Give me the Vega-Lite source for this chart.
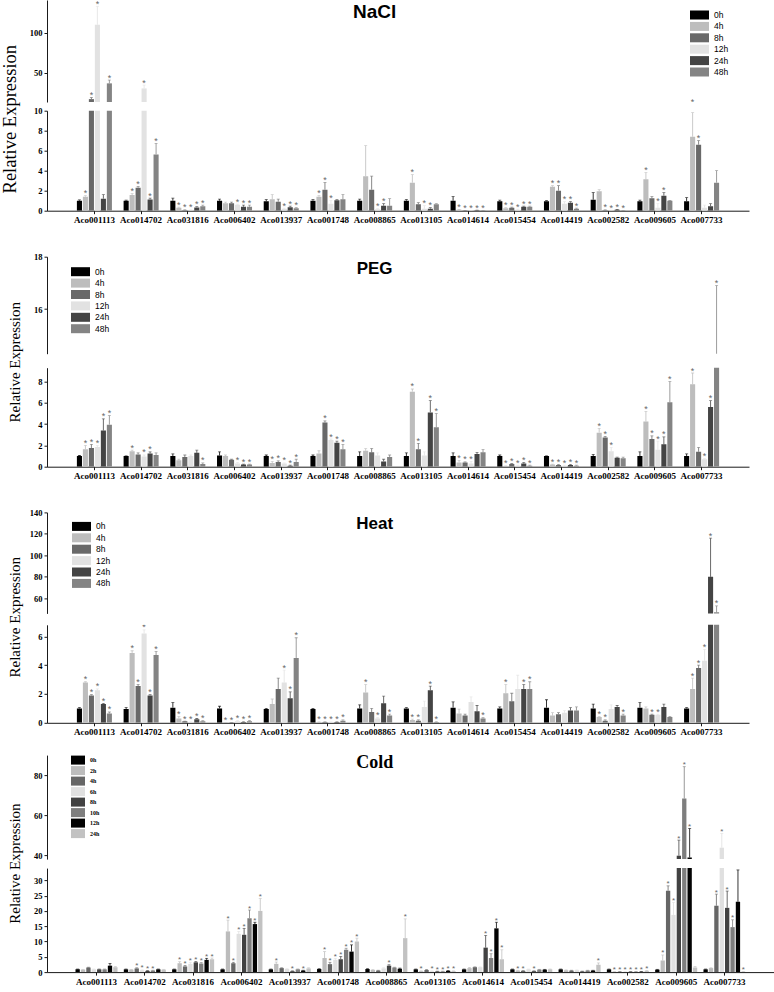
{
"$schema":"https://vega.github.io/schema/vega-lite/v6.json",
"padding":0,
"background":"white",
"spacing":15.7,
"config":{
 "view":{"stroke":null},
 "axis":{"domainColor":"#1a1a1a","tickColor":"#1a1a1a","labelColor":"#000000","labelFont":"Liberation Serif","labelFontWeight":"bold","grid":false,"tickSize":3,"domainWidth":1,"tickWidth":1,"titleFont":"Liberation Serif","titleFontWeight":"normal","titleColor":"#000000"},
 "axisY":{"labelFontSize":8.5,"labelPadding":2},
 "axisX":{"labelFontSize":9,"labelPadding":2,"labelAngle":0}
},
"datasets":{
"nacl":[
{"g":"Aco001113","t":"0h","v":1,"u":1.08},{"g":"Aco001113","t":"4h","v":1.4,"u":1.5,"s":"*"},{"g":"Aco001113","t":"8h","v":17,"u":19,"s":"*"},{"g":"Aco001113","t":"12h","v":110,"u":133,"s":"*"},{"g":"Aco001113","t":"24h","v":1.2,"u":1.6},{"g":"Aco001113","t":"48h","v":36.7,"u":40.8,"s":"*"},
{"g":"Aco014702","t":"0h","v":1,"u":1.05},{"g":"Aco014702","t":"4h","v":1.57,"u":1.7,"s":"*"},{"g":"Aco014702","t":"8h","v":2.3,"u":2.4,"s":"*"},{"g":"Aco014702","t":"12h","v":30.4,"u":34.6,"s":"*"},{"g":"Aco014702","t":"24h","v":1.13,"u":1.25,"s":"*"},{"g":"Aco014702","t":"48h","v":5.63,"u":6.73,"s":"*"},
{"g":"Aco031816","t":"0h","v":1,"u":1.25},{"g":"Aco031816","t":"4h","v":0.3,"u":0.35,"s":"*"},{"g":"Aco031816","t":"8h","v":0.05,"u":0.08,"s":"*"},{"g":"Aco031816","t":"12h","v":0.05,"u":0.08,"s":"*"},{"g":"Aco031816","t":"24h","v":0.33,"u":0.4,"s":"*"},{"g":"Aco031816","t":"48h","v":0.45,"u":0.55,"s":"*"},
{"g":"Aco006402","t":"0h","v":1,"u":1.15},{"g":"Aco006402","t":"4h","v":0.75,"u":0.85},{"g":"Aco006402","t":"8h","v":0.75,"u":0.85},{"g":"Aco006402","t":"12h","v":0.6,"u":0.65,"s":"*"},{"g":"Aco006402","t":"24h","v":0.4,"u":0.55,"s":"*"},{"g":"Aco006402","t":"48h","v":0.4,"u":0.55,"s":"*"},
{"g":"Aco013937","t":"0h","v":0.95,"u":1.1},{"g":"Aco013937","t":"4h","v":1.15,"u":1.6},{"g":"Aco013937","t":"8h","v":0.9,"u":1.15},{"g":"Aco013937","t":"12h","v":0.2,"u":0.25,"s":"*"},{"g":"Aco013937","t":"24h","v":0.35,"u":0.45,"s":"*"},{"g":"Aco013937","t":"48h","v":0.25,"u":0.3,"s":"*"},
{"g":"Aco001748","t":"0h","v":1,"u":1.1},{"g":"Aco001748","t":"4h","v":1.4,"u":1.5,"s":"*"},{"g":"Aco001748","t":"8h","v":2.1,"u":2.8,"s":"*"},{"g":"Aco001748","t":"12h","v":0.7,"u":1.0,"s":"*"},{"g":"Aco001748","t":"24h","v":1.05,"u":1.1},{"g":"Aco001748","t":"48h","v":1.15,"u":1.6},
{"g":"Aco008865","t":"0h","v":1,"u":1.15},{"g":"Aco008865","t":"4h","v":3.45,"u":6.5},{"g":"Aco008865","t":"8h","v":2.1,"u":3.45},{"g":"Aco008865","t":"12h","v":0.15,"u":0.2,"s":"*"},{"g":"Aco008865","t":"24h","v":0.5,"u":0.7,"s":"*"},{"g":"Aco008865","t":"48h","v":0.5,"u":1.2},
{"g":"Aco013105","t":"0h","v":1,"u":1.1},{"g":"Aco013105","t":"4h","v":2.8,"u":3.6,"s":"*"},{"g":"Aco013105","t":"8h","v":0.65,"u":0.8},{"g":"Aco013105","t":"12h","v":0.2,"u":0.5,"s":"*"},{"g":"Aco013105","t":"24h","v":0.2,"u":0.3,"s":"*"},{"g":"Aco013105","t":"48h","v":0.65,"u":0.7},
{"g":"Aco014614","t":"0h","v":1,"u":1.4},{"g":"Aco014614","t":"4h","v":0.1,"u":0.12,"s":"*"},{"g":"Aco014614","t":"8h","v":0.02,"u":0.03,"s":"*"},{"g":"Aco014614","t":"12h","v":0.02,"u":0.03,"s":"*"},{"g":"Aco014614","t":"24h","v":0.05,"u":0.06,"s":"*"},{"g":"Aco014614","t":"48h","v":0.02,"u":0.03,"s":"*"},
{"g":"Aco015454","t":"0h","v":0.95,"u":1.05},{"g":"Aco015454","t":"4h","v":0.25,"u":0.3,"s":"*"},{"g":"Aco015454","t":"8h","v":0.3,"u":0.35,"s":"*"},{"g":"Aco015454","t":"12h","v":0.1,"u":0.15,"s":"*"},{"g":"Aco015454","t":"24h","v":0.4,"u":0.45,"s":"*"},{"g":"Aco015454","t":"48h","v":0.4,"u":0.45,"s":"*"},
{"g":"Aco014419","t":"0h","v":0.95,"u":1.0},{"g":"Aco014419","t":"4h","v":2.4,"u":2.5,"s":"*"},{"g":"Aco014419","t":"8h","v":2.0,"u":2.5,"s":"*"},{"g":"Aco014419","t":"12h","v":0.7,"u":0.9,"s":"*"},{"g":"Aco014419","t":"24h","v":0.8,"u":0.9,"s":"*"},{"g":"Aco014419","t":"48h","v":0.2,"u":0.25,"s":"*"},
{"g":"Aco002582","t":"0h","v":1.1,"u":1.8},{"g":"Aco002582","t":"4h","v":1.95,"u":2.1},{"g":"Aco002582","t":"8h","v":0.05,"u":0.08,"s":"*"},{"g":"Aco002582","t":"12h","v":0.03,"u":0.05,"s":"*"},{"g":"Aco002582","t":"24h","v":0.1,"u":0.12,"s":"*"},{"g":"Aco002582","t":"48h","v":0.02,"u":0.03,"s":"*"},
{"g":"Aco009605","t":"0h","v":0.95,"u":1.05},{"g":"Aco009605","t":"4h","v":3.15,"u":3.8,"s":"*"},{"g":"Aco009605","t":"8h","v":1.25,"u":1.4},{"g":"Aco009605","t":"12h","v":0.3,"u":0.7,"s":"*"},{"g":"Aco009605","t":"24h","v":1.5,"u":1.8,"s":"*"},{"g":"Aco009605","t":"48h","v":1.0,"u":1.02},
{"g":"Aco007733","t":"0h","v":0.95,"u":1.3},{"g":"Aco007733","t":"4h","v":7.4,"u":9.8,"s":"*"},{"g":"Aco007733","t":"8h","v":6.6,"u":7.0,"s":"*"},{"g":"Aco007733","t":"12h","v":0.3,"u":0.55},{"g":"Aco007733","t":"24h","v":0.45,"u":0.7},{"g":"Aco007733","t":"48h","v":2.8,"u":4.0}
],
"peg":[
{"g":"Aco001113","t":"0h","v":1,"u":1.05},{"g":"Aco001113","t":"4h","v":1.65,"u":2.0,"s":"*"},{"g":"Aco001113","t":"8h","v":1.75,"u":2.1,"s":"*"},{"g":"Aco001113","t":"12h","v":1.85,"u":2.0,"s":"*"},{"g":"Aco001113","t":"24h","v":3.4,"u":4.5,"s":"*"},{"g":"Aco001113","t":"48h","v":3.95,"u":4.8,"s":"*"},
{"g":"Aco014702","t":"0h","v":1,"u":1.02},{"g":"Aco014702","t":"4h","v":1.45,"u":1.55,"s":"*"},{"g":"Aco014702","t":"8h","v":1.15,"u":1.3},{"g":"Aco014702","t":"12h","v":0.95,"u":1.1,"s":"*"},{"g":"Aco014702","t":"24h","v":1.25,"u":1.4,"s":"*"},{"g":"Aco014702","t":"48h","v":1.1,"u":1.3},
{"g":"Aco031816","t":"0h","v":1,"u":1.2},{"g":"Aco031816","t":"4h","v":0.6,"u":0.7},{"g":"Aco031816","t":"8h","v":0.9,"u":1.1},{"g":"Aco031816","t":"12h","v":1.0,"u":1.1},{"g":"Aco031816","t":"24h","v":1.3,"u":1.55},{"g":"Aco031816","t":"48h","v":0.25,"u":0.35,"s":"*"},
{"g":"Aco006402","t":"0h","v":1.05,"u":1.4},{"g":"Aco006402","t":"4h","v":1.0,"u":1.1},{"g":"Aco006402","t":"8h","v":0.65,"u":0.7},{"g":"Aco006402","t":"12h","v":0.3,"u":0.4,"s":"*"},{"g":"Aco006402","t":"24h","v":0.2,"u":0.25,"s":"*"},{"g":"Aco006402","t":"48h","v":0.2,"u":0.25,"s":"*"},
{"g":"Aco013937","t":"0h","v":1,"u":1.1},{"g":"Aco013937","t":"4h","v":0.35,"u":0.5,"s":"*"},{"g":"Aco013937","t":"8h","v":0.45,"u":0.55,"s":"*"},{"g":"Aco013937","t":"12h","v":0.3,"u":0.35,"s":"*"},{"g":"Aco013937","t":"24h","v":0.1,"u":0.15,"s":"*"},{"g":"Aco013937","t":"48h","v":0.45,"u":0.7,"s":"*"},
{"g":"Aco001748","t":"0h","v":1,"u":1.1},{"g":"Aco001748","t":"4h","v":1.25,"u":1.5},{"g":"Aco001748","t":"8h","v":4.15,"u":4.3,"s":"*"},{"g":"Aco001748","t":"12h","v":2.5,"u":2.6,"s":"*"},{"g":"Aco001748","t":"24h","v":2.25,"u":2.4,"s":"*"},{"g":"Aco001748","t":"48h","v":1.65,"u":2.1,"s":"*"},
{"g":"Aco008865","t":"0h","v":1,"u":1.4},{"g":"Aco008865","t":"4h","v":1.5,"u":1.7},{"g":"Aco008865","t":"8h","v":1.35,"u":1.7},{"g":"Aco008865","t":"12h","v":1.05,"u":1.3},{"g":"Aco008865","t":"24h","v":0.5,"u":0.7},{"g":"Aco008865","t":"48h","v":0.9,"u":1.1},
{"g":"Aco013105","t":"0h","v":1,"u":1.3},{"g":"Aco013105","t":"4h","v":7.05,"u":7.3,"s":"*"},{"g":"Aco013105","t":"8h","v":1.65,"u":2.2,"s":"*"},{"g":"Aco013105","t":"12h","v":1.05,"u":1.4},{"g":"Aco013105","t":"24h","v":5.1,"u":6.2,"s":"*"},{"g":"Aco013105","t":"48h","v":3.7,"u":5.0,"s":"*"},
{"g":"Aco014614","t":"0h","v":1,"u":1.3},{"g":"Aco014614","t":"4h","v":0.4,"u":0.6,"s":"*"},{"g":"Aco014614","t":"8h","v":0.4,"u":0.45,"s":"*"},{"g":"Aco014614","t":"12h","v":0.3,"u":0.5,"s":"*"},{"g":"Aco014614","t":"24h","v":1.2,"u":1.35},{"g":"Aco014614","t":"48h","v":1.35,"u":1.6},
{"g":"Aco015454","t":"0h","v":1,"u":1.1},{"g":"Aco015454","t":"4h","v":0.05,"u":0.07,"s":"*"},{"g":"Aco015454","t":"8h","v":0.25,"u":0.3,"s":"*"},{"g":"Aco015454","t":"12h","v":0.1,"u":0.15,"s":"*"},{"g":"Aco015454","t":"24h","v":0.3,"u":0.4,"s":"*"},{"g":"Aco015454","t":"48h","v":0.1,"u":0.15,"s":"*"},
{"g":"Aco014419","t":"0h","v":1,"u":1.02},{"g":"Aco014419","t":"4h","v":0.2,"u":0.25,"s":"*"},{"g":"Aco014419","t":"8h","v":0.15,"u":0.2,"s":"*"},{"g":"Aco014419","t":"12h","v":0.1,"u":0.15,"s":"*"},{"g":"Aco014419","t":"24h","v":0.15,"u":0.2,"s":"*"},{"g":"Aco014419","t":"48h","v":0.1,"u":0.15,"s":"*"},
{"g":"Aco002582","t":"0h","v":1,"u":1.15},{"g":"Aco002582","t":"4h","v":3.2,"u":3.6,"s":"*"},{"g":"Aco002582","t":"8h","v":2.75,"u":2.85,"s":"*"},{"g":"Aco002582","t":"12h","v":1.45,"u":1.8,"s":"*"},{"g":"Aco002582","t":"24h","v":0.85,"u":0.9},{"g":"Aco002582","t":"48h","v":0.8,"u":0.9},
{"g":"Aco009605","t":"0h","v":1,"u":1.4},{"g":"Aco009605","t":"4h","v":4.25,"u":5.2,"s":"*"},{"g":"Aco009605","t":"8h","v":2.6,"u":2.9,"s":"*"},{"g":"Aco009605","t":"12h","v":1.6,"u":2.4,"s":"*"},{"g":"Aco009605","t":"24h","v":2.1,"u":2.8,"s":"*"},{"g":"Aco009605","t":"48h","v":6.05,"u":8.0,"s":"*"},
{"g":"Aco007733","t":"0h","v":1,"u":1.2},{"g":"Aco007733","t":"4h","v":7.75,"u":8.8,"s":"*"},{"g":"Aco007733","t":"8h","v":1.4,"u":1.8},{"g":"Aco007733","t":"12h","v":0.7,"u":0.75,"s":"*"},{"g":"Aco007733","t":"24h","v":5.6,"u":6.2,"s":"*"},{"g":"Aco007733","t":"48h","v":9.4,"u":16.9,"s":"*"}
],
"heat":[
{"g":"Aco001113","t":"0h","v":1,"u":1.05},{"g":"Aco001113","t":"4h","v":2.8,"u":2.85,"s":"*"},{"g":"Aco001113","t":"8h","v":1.9,"u":1.95,"s":"*"},{"g":"Aco001113","t":"12h","v":2.25,"u":2.35,"s":"*"},{"g":"Aco001113","t":"24h","v":1.3,"u":1.35,"s":"*"},{"g":"Aco001113","t":"48h","v":0.65,"u":0.75,"s":"*"},
{"g":"Aco014702","t":"0h","v":0.95,"u":1.05},{"g":"Aco014702","t":"4h","v":4.85,"u":5.0,"s":"*"},{"g":"Aco014702","t":"8h","v":2.55,"u":2.65,"s":"*"},{"g":"Aco014702","t":"12h","v":6.2,"u":6.45,"s":"*"},{"g":"Aco014702","t":"24h","v":1.9,"u":1.95,"s":"*"},{"g":"Aco014702","t":"48h","v":4.7,"u":4.95,"s":"*"},
{"g":"Aco031816","t":"0h","v":1.05,"u":1.4},{"g":"Aco031816","t":"4h","v":0.3,"u":0.45,"s":"*"},{"g":"Aco031816","t":"8h","v":0.1,"u":0.12,"s":"*"},{"g":"Aco031816","t":"12h","v":0.05,"u":0.07,"s":"*"},{"g":"Aco031816","t":"24h","v":0.25,"u":0.3,"s":"*"},{"g":"Aco031816","t":"48h","v":0.1,"u":0.15,"s":"*"},
{"g":"Aco006402","t":"0h","v":1,"u":1.15},{"g":"Aco006402","t":"4h","v":0.02,"u":0.03,"s":"*"},{"g":"Aco006402","t":"8h","v":0.02,"u":0.03,"s":"*"},{"g":"Aco006402","t":"12h","v":0.1,"u":0.15,"s":"*"},{"g":"Aco006402","t":"24h","v":0.05,"u":0.07,"s":"*"},{"g":"Aco006402","t":"48h","v":0.1,"u":0.15,"s":"*"},
{"g":"Aco013937","t":"0h","v":0.95,"u":1.0},{"g":"Aco013937","t":"4h","v":1.3,"u":1.65},{"g":"Aco013937","t":"8h","v":2.35,"u":3.1},{"g":"Aco013937","t":"12h","v":2.8,"u":3.65,"s":"*"},{"g":"Aco013937","t":"24h","v":1.7,"u":2.15,"s":"*"},{"g":"Aco013937","t":"48h","v":4.5,"u":5.9,"s":"*"},
{"g":"Aco001748","t":"0h","v":0.95,"u":1.0},{"g":"Aco001748","t":"4h","v":0.05,"u":0.06,"s":"*"},{"g":"Aco001748","t":"8h","v":0.05,"u":0.06,"s":"*"},{"g":"Aco001748","t":"12h","v":0.05,"u":0.06,"s":"*"},{"g":"Aco001748","t":"24h","v":0.05,"u":0.06,"s":"*"},{"g":"Aco001748","t":"48h","v":0.15,"u":0.2,"s":"*"},
{"g":"Aco008865","t":"0h","v":1,"u":1.25},{"g":"Aco008865","t":"4h","v":2.1,"u":2.65,"s":"*"},{"g":"Aco008865","t":"8h","v":0.75,"u":1.0},{"g":"Aco008865","t":"12h","v":0.3,"u":0.35,"s":"*"},{"g":"Aco008865","t":"24h","v":1.35,"u":1.85},{"g":"Aco008865","t":"48h","v":0.5,"u":0.6,"s":"*"},
{"g":"Aco013105","t":"0h","v":1,"u":1.05},{"g":"Aco013105","t":"4h","v":0.2,"u":0.25,"s":"*"},{"g":"Aco013105","t":"8h","v":0.15,"u":0.2,"s":"*"},{"g":"Aco013105","t":"12h","v":1.1,"u":1.5},{"g":"Aco013105","t":"24h","v":2.25,"u":2.55,"s":"*"},{"g":"Aco013105","t":"48h","v":0.05,"u":0.07,"s":"*"},
{"g":"Aco014614","t":"0h","v":1.05,"u":1.45},{"g":"Aco014614","t":"4h","v":0.65,"u":0.95},{"g":"Aco014614","t":"8h","v":0.5,"u":0.6},{"g":"Aco014614","t":"12h","v":1.45,"u":1.8},{"g":"Aco014614","t":"24h","v":0.8,"u":1.2},{"g":"Aco014614","t":"48h","v":0.3,"u":0.35,"s":"*"},
{"g":"Aco015454","t":"0h","v":1,"u":1.1},{"g":"Aco015454","t":"4h","v":2.05,"u":2.65,"s":"*"},{"g":"Aco015454","t":"8h","v":1.5,"u":2.05},{"g":"Aco015454","t":"12h","v":2.35,"u":3.3},{"g":"Aco015454","t":"24h","v":2.35,"u":2.65,"s":"*"},{"g":"Aco015454","t":"48h","v":2.35,"u":2.85,"s":"*"},
{"g":"Aco014419","t":"0h","v":1.05,"u":1.6},{"g":"Aco014419","t":"4h","v":0.5,"u":0.7},{"g":"Aco014419","t":"8h","v":0.6,"u":0.7},{"g":"Aco014419","t":"12h","v":0.7,"u":0.85},{"g":"Aco014419","t":"24h","v":0.85,"u":1.05},{"g":"Aco014419","t":"48h","v":0.85,"u":1.1},
{"g":"Aco002582","t":"0h","v":1,"u":1.3},{"g":"Aco002582","t":"4h","v":0.4,"u":0.45,"s":"*"},{"g":"Aco002582","t":"8h","v":0.15,"u":0.2,"s":"*"},{"g":"Aco002582","t":"12h","v":0.95,"u":1.25},{"g":"Aco002582","t":"24h","v":1.1,"u":1.2},{"g":"Aco002582","t":"48h","v":0.5,"u":0.6,"s":"*"},
{"g":"Aco009605","t":"0h","v":1.05,"u":1.4},{"g":"Aco009605","t":"4h","v":1.0,"u":1.1},{"g":"Aco009605","t":"8h","v":0.55,"u":0.6,"s":"*"},{"g":"Aco009605","t":"12h","v":0.55,"u":0.6,"s":"*"},{"g":"Aco009605","t":"24h","v":1.1,"u":1.3},{"g":"Aco009605","t":"48h","v":0.4,"u":0.45},
{"g":"Aco007733","t":"0h","v":1,"u":1.05},{"g":"Aco007733","t":"4h","v":2.35,"u":3.1,"s":"*"},{"g":"Aco007733","t":"8h","v":3.8,"u":4.0,"s":"*"},{"g":"Aco007733","t":"12h","v":4.3,"u":5.1,"s":"*"},{"g":"Aco007733","t":"24h","v":80,"u":116,"s":"*"},{"g":"Aco007733","t":"48h","v":47,"u":53,"s":"*"}
],
"cold":[
{"g":"Aco001113","t":"0h","v":0.9,"u":1.0},{"g":"Aco001113","t":"2h","v":0.8,"u":0.9},{"g":"Aco001113","t":"4h","v":1.5,"u":1.6},{"g":"Aco001113","t":"6h","v":0.9,"u":1.0},{"g":"Aco001113","t":"8h","v":0.9,"u":1.0},{"g":"Aco001113","t":"10h","v":0.9,"u":1.0},{"g":"Aco001113","t":"12h","v":2.1,"u":2.8},{"g":"Aco001113","t":"24h","v":1.6,"u":1.8},
{"g":"Aco014702","t":"0h","v":0.9,"u":1.0},{"g":"Aco014702","t":"2h","v":0.8,"u":0.9},{"g":"Aco014702","t":"4h","v":1.2,"u":1.4,"s":"*"},{"g":"Aco014702","t":"6h","v":0.6,"u":0.7,"s":"*"},{"g":"Aco014702","t":"8h","v":0.4,"u":0.5,"s":"*"},{"g":"Aco014702","t":"10h","v":0.5,"u":0.6,"s":"*"},{"g":"Aco014702","t":"12h","v":0.9,"u":1.0},{"g":"Aco014702","t":"24h","v":0.8,"u":0.9},
{"g":"Aco031816","t":"0h","v":0.9,"u":1.0},{"g":"Aco031816","t":"2h","v":2.9,"u":3.4,"s":"*"},{"g":"Aco031816","t":"4h","v":1.85,"u":2.2,"s":"*"},{"g":"Aco031816","t":"6h","v":2.7,"u":3.2,"s":"*"},{"g":"Aco031816","t":"8h","v":3.2,"u":3.5,"s":"*"},{"g":"Aco031816","t":"10h","v":2.8,"u":3.1,"s":"*"},{"g":"Aco031816","t":"12h","v":4.0,"u":4.5,"s":"*"},{"g":"Aco031816","t":"24h","v":4.2,"u":4.6,"s":"*"},
{"g":"Aco006402","t":"0h","v":0.9,"u":1.0},{"g":"Aco006402","t":"2h","v":13.3,"u":17.0,"s":"*"},{"g":"Aco006402","t":"4h","v":2.9,"u":3.2,"s":"*"},{"g":"Aco006402","t":"6h","v":12.5,"u":13.3,"s":"*"},{"g":"Aco006402","t":"8h","v":12.2,"u":14.3,"s":"*"},{"g":"Aco006402","t":"10h","v":17.6,"u":20.3,"s":"*"},{"g":"Aco006402","t":"12h","v":15.7,"u":16.3,"s":"*"},{"g":"Aco006402","t":"24h","v":20.0,"u":24.1,"s":"*"},
{"g":"Aco013937","t":"0h","v":0.9,"u":1.0},{"g":"Aco013937","t":"2h","v":2.7,"u":3.3,"s":"*"},{"g":"Aco013937","t":"4h","v":1.3,"u":1.4},{"g":"Aco013937","t":"6h","v":1.0,"u":1.1},{"g":"Aco013937","t":"8h","v":0.3,"u":0.4,"s":"*"},{"g":"Aco013937","t":"10h","v":0.9,"u":1.0},{"g":"Aco013937","t":"12h","v":0.5,"u":0.6,"s":"*"},{"g":"Aco013937","t":"24h","v":1.2,"u":1.4},
{"g":"Aco001748","t":"0h","v":1.0,"u":1.1},{"g":"Aco001748","t":"2h","v":4.6,"u":6.7,"s":"*"},{"g":"Aco001748","t":"4h","v":2.6,"u":3.2,"s":"*"},{"g":"Aco001748","t":"6h","v":4.0,"u":4.5,"s":"*"},{"g":"Aco001748","t":"8h","v":4.2,"u":5.1,"s":"*"},{"g":"Aco001748","t":"10h","v":7.3,"u":7.8,"s":"*"},{"g":"Aco001748","t":"12h","v":6.7,"u":8.9,"s":"*"},{"g":"Aco001748","t":"24h","v":10.0,"u":11.1,"s":"*"},
{"g":"Aco008865","t":"0h","v":1.0,"u":1.1},{"g":"Aco008865","t":"2h","v":0.7,"u":0.8},{"g":"Aco008865","t":"4h","v":0.5,"u":0.6},{"g":"Aco008865","t":"6h","v":1.2,"u":1.4},{"g":"Aco008865","t":"8h","v":2.1,"u":2.4,"s":"*"},{"g":"Aco008865","t":"10h","v":1.5,"u":1.6},{"g":"Aco008865","t":"12h","v":1.1,"u":1.3},{"g":"Aco008865","t":"24h","v":11.1,"u":17.4,"s":"*"},
{"g":"Aco013105","t":"0h","v":0.9,"u":1.0},{"g":"Aco013105","t":"2h","v":0.3,"u":0.4,"s":"*"},{"g":"Aco013105","t":"4h","v":0.7,"u":0.8},{"g":"Aco013105","t":"6h","v":0.3,"u":0.4,"s":"*"},{"g":"Aco013105","t":"8h","v":0.2,"u":0.3,"s":"*"},{"g":"Aco013105","t":"10h","v":0.2,"u":0.3,"s":"*"},{"g":"Aco013105","t":"12h","v":0.4,"u":0.5,"s":"*"},{"g":"Aco013105","t":"24h","v":0.3,"u":0.4,"s":"*"},
{"g":"Aco014614","t":"0h","v":0.9,"u":1.0},{"g":"Aco014614","t":"2h","v":1.3,"u":1.5},{"g":"Aco014614","t":"4h","v":1.6,"u":1.7},{"g":"Aco014614","t":"6h","v":1.6,"u":1.7},{"g":"Aco014614","t":"8h","v":8.0,"u":12.0,"s":"*"},{"g":"Aco014614","t":"10h","v":4.6,"u":6.0,"s":"*"},{"g":"Aco014614","t":"12h","v":14.3,"u":16.3,"s":"*"},{"g":"Aco014614","t":"24h","v":4.2,"u":7.3,"s":"*"},
{"g":"Aco015454","t":"0h","v":0.9,"u":1.0},{"g":"Aco015454","t":"2h","v":0.5,"u":0.6,"s":"*"},{"g":"Aco015454","t":"4h","v":0.4,"u":0.5,"s":"*"},{"g":"Aco015454","t":"6h","v":0.9,"u":1.0},{"g":"Aco015454","t":"8h","v":0.3,"u":0.4,"s":"*"},{"g":"Aco015454","t":"10h","v":0.8,"u":0.9},{"g":"Aco015454","t":"12h","v":0.8,"u":0.9},{"g":"Aco015454","t":"24h","v":0.9,"u":1.0},
{"g":"Aco014419","t":"0h","v":0.9,"u":1.0},{"g":"Aco014419","t":"2h","v":0.6,"u":0.7},{"g":"Aco014419","t":"4h","v":0.5,"u":0.6},{"g":"Aco014419","t":"6h","v":0.6,"u":0.7},{"g":"Aco014419","t":"8h","v":0.2,"u":0.3},{"g":"Aco014419","t":"10h","v":0.5,"u":0.6},{"g":"Aco014419","t":"12h","v":0.5,"u":0.6},{"g":"Aco014419","t":"24h","v":2.4,"u":3.0,"s":"*"},
{"g":"Aco002582","t":"0h","v":0.9,"u":1.0},{"g":"Aco002582","t":"2h","v":0.1,"u":0.15,"s":"*"},{"g":"Aco002582","t":"4h","v":0.1,"u":0.15,"s":"*"},{"g":"Aco002582","t":"6h","v":0.1,"u":0.15,"s":"*"},{"g":"Aco002582","t":"8h","v":0.1,"u":0.15,"s":"*"},{"g":"Aco002582","t":"10h","v":0.1,"u":0.15,"s":"*"},{"g":"Aco002582","t":"12h","v":0.1,"u":0.15,"s":"*"},{"g":"Aco002582","t":"24h","v":0.4,"u":0.5,"s":"*"},
{"g":"Aco009605","t":"0h","v":0.8,"u":0.9},{"g":"Aco009605","t":"2h","v":3.8,"u":5.6,"s":"*"},{"g":"Aco009605","t":"4h","v":26.6,"u":28.2,"s":"*"},{"g":"Aco009605","t":"6h","v":18.7,"u":22.8,"s":"*"},{"g":"Aco009605","t":"8h","v":39.7,"u":47.5,"s":"*"},{"g":"Aco009605","t":"10h","v":68.3,"u":84.2,"s":"*"},{"g":"Aco009605","t":"12h","v":38.8,"u":53.3,"s":"*"},{"g":"Aco009605","t":"24h","v":1.5,"u":1.8},
{"g":"Aco007733","t":"0h","v":0.9,"u":1.0},{"g":"Aco007733","t":"2h","v":1.3,"u":1.4},{"g":"Aco007733","t":"4h","v":21.7,"u":25.5,"s":"*"},{"g":"Aco007733","t":"6h","v":43.7,"u":50.8,"s":"*"},{"g":"Aco007733","t":"8h","v":21.0,"u":26.5,"s":"*"},{"g":"Aco007733","t":"10h","v":14.7,"u":17.1,"s":"*"},{"g":"Aco007733","t":"12h","v":23.0,"u":33.4,"s":"*"},{"g":"Aco007733","t":"24h","v":0.1,"u":0.15,"s":"*"}
]
},
"resolve":{"scale":{"x":"independent","y":"independent","xOffset":"independent","color":"independent"},"legend":{"color":"independent"}},
"vconcat":[
{"spacing":8.7,"bounds":"flush","resolve":{"scale":{"x":"independent","y":"independent","xOffset":"independent","color":"independent"},"legend":{"color":"independent"}},
 "vconcat":[
 {"width":702,"height":102,"data":{"name":"nacl"},"layer":[
  {"mark":{"type":"bar","clip":true},"encoding":{
   "x":{"field":"g","type":"nominal","scale":{"domain":["Aco001113","Aco014702","Aco031816","Aco006402","Aco013937","Aco001748","Aco008865","Aco013105","Aco014614","Aco015454","Aco014419","Aco002582","Aco009605","Aco007733"],"paddingInner":0.25,"paddingOuter":0.64},"axis":null},
   "xOffset":{"field":"t","type":"nominal","scale":{"domain":["0h","4h","8h","12h","24h","48h"],"paddingInner":0.15}},
   "color":{"field":"t","type":"nominal","scale":{"domain":["0h","4h","8h","12h","24h","48h"],"range":["#000000","#bdbdbd","#696969","#e2e2e2","#444444","#848484"]},"legend":{"title":null,"orient":"none","legendX":647.5,"legendY":10,"symbolType":"M-1.9,-0.9H1.9V0.9H-1.9Z","symbolSize":100,"symbolStrokeWidth":0,"labelFont":"Liberation Sans","labelFontSize":8.5,"labelFontWeight":"normal","labelColor":"#000000","labelOffset":9.5,"rowPadding":1.4,"padding":0}},
   "y":{"field":"v","type":"quantitative","scale":{"domain":[13.4,140.9],"nice":false,"zero":false},"axis":{"values":[50,100],"title":null}}}},
  {"mark":{"type":"rule","clip":true,"strokeWidth":0.8},"encoding":{
   "x":{"field":"g","type":"nominal","axis":null},
   "xOffset":{"field":"t","type":"nominal"},
   "color":{"field":"t","type":"nominal","legend":null},
   "y":{"field":"v","type":"quantitative","axis":{"values":[50,100],"title":null}},"y2":{"field":"u"}}},
  {"mark":{"type":"tick","clip":true,"size":3,"thickness":0.8,"orient":"horizontal"},"encoding":{
   "x":{"field":"g","type":"nominal","axis":null},
   "xOffset":{"field":"t","type":"nominal"},
   "color":{"field":"t","type":"nominal","legend":null},
   "y":{"field":"u","type":"quantitative","axis":{"values":[50,100],"title":null}}}},
  {"transform":[{"filter":"datum.s==='*'"}],"mark":{"type":"text","text":"*","clip":true,"font":"Liberation Sans","fontSize":9,"color":"#666666","baseline":"alphabetic","dy":0.5},"encoding":{
   "x":{"field":"g","type":"nominal","axis":null},
   "xOffset":{"field":"t","type":"nominal"},
   "y":{"field":"u","type":"quantitative","axis":{"values":[50,100],"title":null}}}},
  {"data":{"values":[{"n":"NaCl"}]},"mark":{"type":"text","font":"Liberation Sans","fontWeight":"bold","fontSize":19,"align":"center","baseline":"middle","color":"#000000"},"encoding":{
   "x":{"datum":"Aco008865","type":"nominal","axis":null},
   "y":{"datum":125.3,"type":"quantitative","axis":{"values":[50,100],"title":null}},
   "text":{"field":"n"}}}
 ]},
 {"width":702,"height":100,"data":{"name":"nacl"},"layer":[
  {"mark":{"type":"bar","clip":true},"encoding":{
   "x":{"field":"g","type":"nominal","scale":{"domain":["Aco001113","Aco014702","Aco031816","Aco006402","Aco013937","Aco001748","Aco008865","Aco013105","Aco014614","Aco015454","Aco014419","Aco002582","Aco009605","Aco007733"],"paddingInner":0.25,"paddingOuter":0.64},"axis":{"title":" ","titleFontSize":1,"titlePadding":10.8}},
   "xOffset":{"field":"t","type":"nominal","scale":{"domain":["0h","4h","8h","12h","24h","48h"],"paddingInner":0.15}},
   "color":{"field":"t","type":"nominal","scale":{"domain":["0h","4h","8h","12h","24h","48h"],"range":["#000000","#bdbdbd","#696969","#e2e2e2","#444444","#848484"]},"legend":null},
   "y":{"field":"v","type":"quantitative","scale":{"domain":[0,10],"nice":false,"zero":false},"axis":{"values":[0,2,4,6,8,10],"title":"Relative Expression","titleFontSize":18.5,"titleX":-27.7,"titleY":8}}}},
  {"mark":{"type":"rule","clip":true,"strokeWidth":0.8},"encoding":{
   "x":{"field":"g","type":"nominal","axis":{"title":" ","titleFontSize":1,"titlePadding":10.8}},
   "xOffset":{"field":"t","type":"nominal"},
   "color":{"field":"t","type":"nominal","legend":null},
   "y":{"field":"v","type":"quantitative","axis":{"values":[0,2,4,6,8,10],"title":"Relative Expression","titleFontSize":18.5,"titleX":-27.7,"titleY":8}},"y2":{"field":"u"}}},
  {"mark":{"type":"tick","clip":true,"size":3,"thickness":0.8,"orient":"horizontal"},"encoding":{
   "x":{"field":"g","type":"nominal","axis":{"title":" ","titleFontSize":1,"titlePadding":10.8}},
   "xOffset":{"field":"t","type":"nominal"},
   "color":{"field":"t","type":"nominal","legend":null},
   "y":{"field":"u","type":"quantitative","axis":{"values":[0,2,4,6,8,10],"title":"Relative Expression","titleFontSize":18.5,"titleX":-27.7,"titleY":8}}}},
  {"transform":[{"filter":"datum.s==='*'"}],"mark":{"type":"text","text":"*","clip":true,"font":"Liberation Sans","fontSize":9,"color":"#666666","baseline":"alphabetic","dy":0.5},"encoding":{
   "x":{"field":"g","type":"nominal","axis":{"title":" ","titleFontSize":1,"titlePadding":10.8}},
   "xOffset":{"field":"t","type":"nominal"},
   "y":{"field":"u","type":"quantitative","axis":{"values":[0,2,4,6,8,10],"title":"Relative Expression","titleFontSize":18.5,"titleX":-27.7,"titleY":8}}}}
 ]}
 ]},
{"spacing":14,"bounds":"flush","resolve":{"scale":{"x":"independent","y":"independent","xOffset":"independent","color":"independent"},"legend":{"color":"independent"}},
 "vconcat":[
 {"width":702,"height":97,"data":{"name":"peg"},"layer":[
  {"mark":{"type":"bar","clip":true},"encoding":{
   "x":{"field":"g","type":"nominal","scale":{"domain":["Aco001113","Aco014702","Aco031816","Aco006402","Aco013937","Aco001748","Aco008865","Aco013105","Aco014614","Aco015454","Aco014419","Aco002582","Aco009605","Aco007733"],"paddingInner":0.25,"paddingOuter":0.64},"axis":null},
   "xOffset":{"field":"t","type":"nominal","scale":{"domain":["0h","4h","8h","12h","24h","48h"],"paddingInner":0.15}},
   "color":{"field":"t","type":"nominal","scale":{"domain":["0h","4h","8h","12h","24h","48h"],"range":["#000000","#bdbdbd","#696969","#e2e2e2","#444444","#848484"]},"legend":{"title":null,"orient":"none","legendX":28.5,"legendY":10,"symbolType":"M-1.9,-0.9H1.9V0.9H-1.9Z","symbolSize":100,"symbolStrokeWidth":0,"labelFont":"Liberation Sans","labelFontSize":8.5,"labelFontWeight":"normal","labelColor":"#000000","labelOffset":9.5,"rowPadding":1.4,"padding":0}},
   "y":{"field":"v","type":"quantitative","scale":{"domain":[14.3,18],"nice":false,"zero":false},"axis":{"values":[16,18],"title":null}}}},
  {"mark":{"type":"rule","clip":true,"strokeWidth":0.8},"encoding":{
   "x":{"field":"g","type":"nominal","axis":null},
   "xOffset":{"field":"t","type":"nominal"},
   "color":{"field":"t","type":"nominal","legend":null},
   "y":{"field":"v","type":"quantitative","axis":{"values":[16,18],"title":null}},"y2":{"field":"u"}}},
  {"mark":{"type":"tick","clip":true,"size":3,"thickness":0.8,"orient":"horizontal"},"encoding":{
   "x":{"field":"g","type":"nominal","axis":null},
   "xOffset":{"field":"t","type":"nominal"},
   "color":{"field":"t","type":"nominal","legend":null},
   "y":{"field":"u","type":"quantitative","axis":{"values":[16,18],"title":null}}}},
  {"transform":[{"filter":"datum.s==='*'"}],"mark":{"type":"text","text":"*","clip":true,"font":"Liberation Sans","fontSize":9,"color":"#666666","baseline":"alphabetic","dy":0.5},"encoding":{
   "x":{"field":"g","type":"nominal","axis":null},
   "xOffset":{"field":"t","type":"nominal"},
   "y":{"field":"u","type":"quantitative","axis":{"values":[16,18],"title":null}}}},
  {"data":{"values":[{"n":"PEG"}]},"mark":{"type":"text","font":"Liberation Sans","fontWeight":"bold","fontSize":17,"align":"center","baseline":"middle","color":"#000000"},"encoding":{
   "x":{"datum":"Aco008865","type":"nominal","axis":null},
   "y":{"datum":17.52,"type":"quantitative","axis":{"values":[16,18],"title":null}},
   "text":{"field":"n"}}}
 ]},
 {"width":702,"height":99,"data":{"name":"peg"},"layer":[
  {"mark":{"type":"bar","clip":true},"encoding":{
   "x":{"field":"g","type":"nominal","scale":{"domain":["Aco001113","Aco014702","Aco031816","Aco006402","Aco013937","Aco001748","Aco008865","Aco013105","Aco014614","Aco015454","Aco014419","Aco002582","Aco009605","Aco007733"],"paddingInner":0.25,"paddingOuter":0.64},"axis":{"title":" ","titleFontSize":1,"titlePadding":10.3}},
   "xOffset":{"field":"t","type":"nominal","scale":{"domain":["0h","4h","8h","12h","24h","48h"],"paddingInner":0.15}},
   "color":{"field":"t","type":"nominal","scale":{"domain":["0h","4h","8h","12h","24h","48h"],"range":["#000000","#bdbdbd","#696969","#e2e2e2","#444444","#848484"]},"legend":null},
   "y":{"field":"v","type":"quantitative","scale":{"domain":[0,9.3],"nice":false,"zero":false},"axis":{"values":[0,2,4,6,8],"title":"Relative Expression","titleFontSize":15,"titleX":-24.3,"titleY":-6}}}},
  {"mark":{"type":"rule","clip":true,"strokeWidth":0.8},"encoding":{
   "x":{"field":"g","type":"nominal","axis":{"title":" ","titleFontSize":1,"titlePadding":10.3}},
   "xOffset":{"field":"t","type":"nominal"},
   "color":{"field":"t","type":"nominal","legend":null},
   "y":{"field":"v","type":"quantitative","axis":{"values":[0,2,4,6,8],"title":"Relative Expression","titleFontSize":15,"titleX":-24.3,"titleY":-6}},"y2":{"field":"u"}}},
  {"mark":{"type":"tick","clip":true,"size":3,"thickness":0.8,"orient":"horizontal"},"encoding":{
   "x":{"field":"g","type":"nominal","axis":{"title":" ","titleFontSize":1,"titlePadding":10.3}},
   "xOffset":{"field":"t","type":"nominal"},
   "color":{"field":"t","type":"nominal","legend":null},
   "y":{"field":"u","type":"quantitative","axis":{"values":[0,2,4,6,8],"title":"Relative Expression","titleFontSize":15,"titleX":-24.3,"titleY":-6}}}},
  {"transform":[{"filter":"datum.s==='*'"}],"mark":{"type":"text","text":"*","clip":true,"font":"Liberation Sans","fontSize":9,"color":"#666666","baseline":"alphabetic","dy":0.5},"encoding":{
   "x":{"field":"g","type":"nominal","axis":{"title":" ","titleFontSize":1,"titlePadding":10.3}},
   "xOffset":{"field":"t","type":"nominal"},
   "y":{"field":"u","type":"quantitative","axis":{"values":[0,2,4,6,8],"title":"Relative Expression","titleFontSize":15,"titleX":-24.3,"titleY":-6}}}}
 ]}
 ]},
{"spacing":11.4,"bounds":"flush","resolve":{"scale":{"x":"independent","y":"independent","xOffset":"independent","color":"independent"},"legend":{"color":"independent"}},
 "vconcat":[
 {"width":702,"height":101,"data":{"name":"heat"},"layer":[
  {"mark":{"type":"bar","clip":true},"encoding":{
   "x":{"field":"g","type":"nominal","scale":{"domain":["Aco001113","Aco014702","Aco031816","Aco006402","Aco013937","Aco001748","Aco008865","Aco013105","Aco014614","Aco015454","Aco014419","Aco002582","Aco009605","Aco007733"],"paddingInner":0.25,"paddingOuter":0.64},"axis":null},
   "xOffset":{"field":"t","type":"nominal","scale":{"domain":["0h","4h","8h","12h","24h","48h"],"paddingInner":0.15}},
   "color":{"field":"t","type":"nominal","scale":{"domain":["0h","4h","8h","12h","24h","48h"],"range":["#000000","#bdbdbd","#696969","#e2e2e2","#444444","#848484"]},"legend":{"title":null,"orient":"none","legendX":29.5,"legendY":9,"symbolType":"M-1.9,-0.9H1.9V0.9H-1.9Z","symbolSize":100,"symbolStrokeWidth":0,"labelFont":"Liberation Sans","labelFontSize":8.5,"labelFontWeight":"normal","labelColor":"#000000","labelOffset":9.5,"rowPadding":1.4,"padding":0}},
   "y":{"field":"v","type":"quantitative","scale":{"domain":[46,140],"nice":false,"zero":false},"axis":{"values":[60,80,100,120,140],"title":null}}}},
  {"mark":{"type":"rule","clip":true,"strokeWidth":0.8},"encoding":{
   "x":{"field":"g","type":"nominal","axis":null},
   "xOffset":{"field":"t","type":"nominal"},
   "color":{"field":"t","type":"nominal","legend":null},
   "y":{"field":"v","type":"quantitative","axis":{"values":[60,80,100,120,140],"title":null}},"y2":{"field":"u"}}},
  {"mark":{"type":"tick","clip":true,"size":3,"thickness":0.8,"orient":"horizontal"},"encoding":{
   "x":{"field":"g","type":"nominal","axis":null},
   "xOffset":{"field":"t","type":"nominal"},
   "color":{"field":"t","type":"nominal","legend":null},
   "y":{"field":"u","type":"quantitative","axis":{"values":[60,80,100,120,140],"title":null}}}},
  {"transform":[{"filter":"datum.s==='*'"}],"mark":{"type":"text","text":"*","clip":true,"font":"Liberation Sans","fontSize":9,"color":"#666666","baseline":"alphabetic","dy":0.5},"encoding":{
   "x":{"field":"g","type":"nominal","axis":null},
   "xOffset":{"field":"t","type":"nominal"},
   "y":{"field":"u","type":"quantitative","axis":{"values":[60,80,100,120,140],"title":null}}}},
  {"data":{"values":[{"n":"Heat"}]},"mark":{"type":"text","font":"Liberation Sans","fontWeight":"bold","fontSize":17,"align":"center","baseline":"middle","color":"#000000"},"encoding":{
   "x":{"datum":"Aco008865","type":"nominal","axis":null},
   "y":{"datum":129.4,"type":"quantitative","axis":{"values":[60,80,100,120,140],"title":null}},
   "text":{"field":"n"}}}
 ]},
 {"width":702,"height":98,"data":{"name":"heat"},"layer":[
  {"mark":{"type":"bar","clip":true},"encoding":{
   "x":{"field":"g","type":"nominal","scale":{"domain":["Aco001113","Aco014702","Aco031816","Aco006402","Aco013937","Aco001748","Aco008865","Aco013105","Aco014614","Aco015454","Aco014419","Aco002582","Aco009605","Aco007733"],"paddingInner":0.25,"paddingOuter":0.64},"axis":{"title":null}},
   "xOffset":{"field":"t","type":"nominal","scale":{"domain":["0h","4h","8h","12h","24h","48h"],"paddingInner":0.15}},
   "color":{"field":"t","type":"nominal","scale":{"domain":["0h","4h","8h","12h","24h","48h"],"range":["#000000","#bdbdbd","#696969","#e2e2e2","#444444","#848484"]},"legend":null},
   "y":{"field":"v","type":"quantitative","scale":{"domain":[0,6.8],"nice":false,"zero":false},"axis":{"values":[0,2,4,6],"title":"Relative Expression","titleFontSize":15,"titleX":-24.3,"titleY":-8}}}},
  {"mark":{"type":"rule","clip":true,"strokeWidth":0.8},"encoding":{
   "x":{"field":"g","type":"nominal","axis":{"title":null}},
   "xOffset":{"field":"t","type":"nominal"},
   "color":{"field":"t","type":"nominal","legend":null},
   "y":{"field":"v","type":"quantitative","axis":{"values":[0,2,4,6],"title":"Relative Expression","titleFontSize":15,"titleX":-24.3,"titleY":-8}},"y2":{"field":"u"}}},
  {"mark":{"type":"tick","clip":true,"size":3,"thickness":0.8,"orient":"horizontal"},"encoding":{
   "x":{"field":"g","type":"nominal","axis":{"title":null}},
   "xOffset":{"field":"t","type":"nominal"},
   "color":{"field":"t","type":"nominal","legend":null},
   "y":{"field":"u","type":"quantitative","axis":{"values":[0,2,4,6],"title":"Relative Expression","titleFontSize":15,"titleX":-24.3,"titleY":-8}}}},
  {"transform":[{"filter":"datum.s==='*'"}],"mark":{"type":"text","text":"*","clip":true,"font":"Liberation Sans","fontSize":9,"color":"#666666","baseline":"alphabetic","dy":0.5},"encoding":{
   "x":{"field":"g","type":"nominal","axis":{"title":null}},
   "xOffset":{"field":"t","type":"nominal"},
   "y":{"field":"u","type":"quantitative","axis":{"values":[0,2,4,6],"title":"Relative Expression","titleFontSize":15,"titleX":-24.3,"titleY":-8}}}}
 ]}
 ]},
{"spacing":9,"bounds":"flush","resolve":{"scale":{"x":"independent","y":"independent","xOffset":"independent","color":"independent"},"legend":{"color":"independent"}},
 "vconcat":[
 {"width":727,"height":104,"data":{"name":"cold"},"layer":[
  {"mark":{"type":"bar","clip":true},"encoding":{
   "x":{"field":"g","type":"nominal","scale":{"domain":["Aco001113","Aco014702","Aco031816","Aco006402","Aco013937","Aco001748","Aco008865","Aco013105","Aco014614","Aco015454","Aco014419","Aco002582","Aco009605","Aco007733"],"paddingInner":0.13,"paddingOuter":0.59},"axis":null},
   "xOffset":{"field":"t","type":"nominal","scale":{"domain":["0h","2h","4h","6h","8h","10h","12h","24h"],"paddingInner":0.2}},
   "color":{"field":"t","type":"nominal","scale":{"domain":["0h","2h","4h","6h","8h","10h","12h","24h"],"range":["#000000","#bcbcbc","#666666","#e0e0e0","#424242","#7e7e7e","#030303","#c2c2c2"]},"legend":{"title":null,"orient":"none","legendX":26.5,"legendY":0.5,"symbolType":"M-1.556,-1H1.556V1H-1.556Z","symbolSize":81,"symbolStrokeWidth":0,"labelFont":"Liberation Serif","labelFontSize":6,"labelFontWeight":"bold","labelColor":"#000000","labelOffset":7.5,"rowPadding":1.5,"padding":0}},
   "y":{"field":"v","type":"quantitative","scale":{"domain":[38,90],"nice":false,"zero":false},"axis":{"values":[40,60,80],"title":null}}}},
  {"mark":{"type":"rule","clip":true,"strokeWidth":0.8},"encoding":{
   "x":{"field":"g","type":"nominal","axis":null},
   "xOffset":{"field":"t","type":"nominal"},
   "color":{"field":"t","type":"nominal","legend":null},
   "y":{"field":"v","type":"quantitative","axis":{"values":[40,60,80],"title":null}},"y2":{"field":"u"}}},
  {"mark":{"type":"tick","clip":true,"size":3,"thickness":0.8,"orient":"horizontal"},"encoding":{
   "x":{"field":"g","type":"nominal","axis":null},
   "xOffset":{"field":"t","type":"nominal"},
   "color":{"field":"t","type":"nominal","legend":null},
   "y":{"field":"u","type":"quantitative","axis":{"values":[40,60,80],"title":null}}}},
  {"transform":[{"filter":"datum.s==='*'"}],"mark":{"type":"text","text":"*","clip":true,"font":"Liberation Sans","fontSize":8,"color":"#666666","baseline":"alphabetic","dy":0.5},"encoding":{
   "x":{"field":"g","type":"nominal","axis":null},
   "xOffset":{"field":"t","type":"nominal"},
   "y":{"field":"u","type":"quantitative","axis":{"values":[40,60,80],"title":null}}}},
  {"data":{"values":[{"n":"Cold"}]},"mark":{"type":"text","font":"Liberation Serif","fontWeight":"bold","fontSize":18,"align":"center","baseline":"middle","color":"#000000","dx":-11.5},"encoding":{
   "x":{"datum":"Aco008865","type":"nominal","axis":null},
   "y":{"datum":86,"type":"quantitative","axis":{"values":[40,60,80],"title":null}},
   "text":{"field":"n"}}}
 ]},
 {"width":727,"height":104,"data":{"name":"cold"},"layer":[
  {"mark":{"type":"bar","clip":true},"encoding":{
   "x":{"field":"g","type":"nominal","scale":{"domain":["Aco001113","Aco014702","Aco031816","Aco006402","Aco013937","Aco001748","Aco008865","Aco013105","Aco014614","Aco015454","Aco014419","Aco002582","Aco009605","Aco007733"],"paddingInner":0.13,"paddingOuter":0.59},"axis":{"title":null}},
   "xOffset":{"field":"t","type":"nominal","scale":{"domain":["0h","2h","4h","6h","8h","10h","12h","24h"],"paddingInner":0.2}},
   "color":{"field":"t","type":"nominal","scale":{"domain":["0h","2h","4h","6h","8h","10h","12h","24h"],"range":["#000000","#bcbcbc","#666666","#e0e0e0","#424242","#7e7e7e","#030303","#c2c2c2"]},"legend":null},
   "y":{"field":"v","type":"quantitative","scale":{"domain":[0,34],"nice":false,"zero":false},"axis":{"values":[0,5,10,15,20,25,30],"title":"Relative Expression","titleFontSize":15,"titleX":-24.3,"titleY":-5}}}},
  {"mark":{"type":"rule","clip":true,"strokeWidth":0.8},"encoding":{
   "x":{"field":"g","type":"nominal","axis":{"title":null}},
   "xOffset":{"field":"t","type":"nominal"},
   "color":{"field":"t","type":"nominal","legend":null},
   "y":{"field":"v","type":"quantitative","axis":{"values":[0,5,10,15,20,25,30],"title":"Relative Expression","titleFontSize":15,"titleX":-24.3,"titleY":-5}},"y2":{"field":"u"}}},
  {"mark":{"type":"tick","clip":true,"size":3,"thickness":0.8,"orient":"horizontal"},"encoding":{
   "x":{"field":"g","type":"nominal","axis":{"title":null}},
   "xOffset":{"field":"t","type":"nominal"},
   "color":{"field":"t","type":"nominal","legend":null},
   "y":{"field":"u","type":"quantitative","axis":{"values":[0,5,10,15,20,25,30],"title":"Relative Expression","titleFontSize":15,"titleX":-24.3,"titleY":-5}}}},
  {"transform":[{"filter":"datum.s==='*'"}],"mark":{"type":"text","text":"*","clip":true,"font":"Liberation Sans","fontSize":8,"color":"#666666","baseline":"alphabetic","dy":0.5},"encoding":{
   "x":{"field":"g","type":"nominal","axis":{"title":null}},
   "xOffset":{"field":"t","type":"nominal"},
   "y":{"field":"u","type":"quantitative","axis":{"values":[0,5,10,15,20,25,30],"title":"Relative Expression","titleFontSize":15,"titleX":-24.3,"titleY":-5}}}}
 ]}
 ]}
]
}
